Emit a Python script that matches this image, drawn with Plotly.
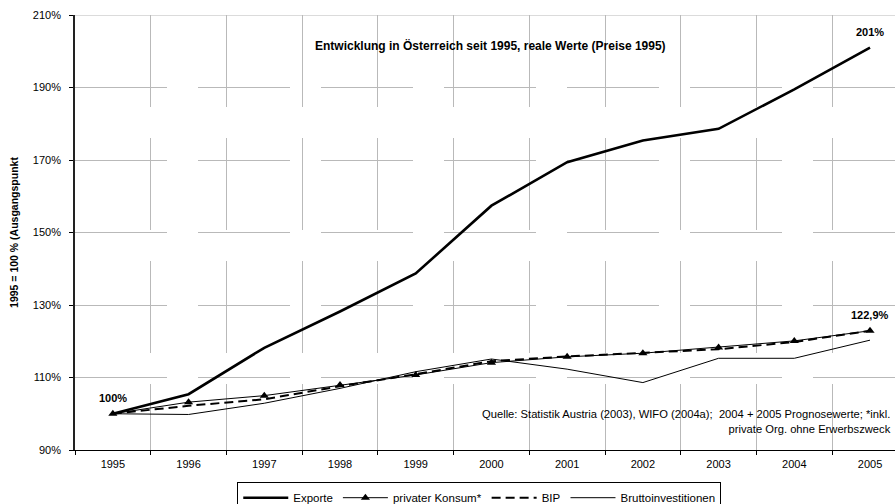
import plotly.graph_objects as go

# Jahre (Kategorien der x-Achse)
jahre = ["1995", "1996", "1997", "1998", "1999", "2000",
         "2001", "2002", "2003", "2004", "2005"]

# Indexwerte, 1995 = 100 %
exporte = [100.0, 105.4, 118.2, 128.2, 138.7, 157.4, 169.4, 175.4, 178.6, 189.5, 201.0]
privater_konsum = [100.0, 103.2, 105.0, 107.9, 110.7, 114.1, 115.7, 116.7, 118.3, 120.1, 122.9]
bip = [100.0, 102.2, 104.0, 107.6, 110.9, 114.5, 115.8, 116.8, 117.8, 119.8, 122.9]
bruttoinvestitionen = [100.0, 99.8, 102.9, 107.0, 111.6, 115.1, 112.3, 108.6, 115.3, 115.3, 120.3]

y_ticks = [90, 110, 130, 150, 170, 190, 210]
y_ticktext = [f"{v}%" for v in y_ticks]

FONT = "Liberation Sans, Arial, sans-serif"


def pct(v):
    return f"{v:g}%".replace(".", ",")


fig = go.Figure()

fig.add_trace(go.Scatter(
    x=jahre, y=exporte, name="Exporte", mode="lines",
    line=dict(color="black", width=2.6),
))
fig.add_trace(go.Scatter(
    x=jahre, y=privater_konsum, name="privater Konsum*", mode="lines+markers",
    line=dict(color="black", width=1),
    marker=dict(symbol="triangle-up", size=8, color="black"),
))
fig.add_trace(go.Scatter(
    x=jahre, y=bip, name="BIP", mode="lines",
    line=dict(color="black", width=2, dash="9px,5px"),
))
fig.add_trace(go.Scatter(
    x=jahre, y=bruttoinvestitionen, name="Bruttoinvestitionen", mode="lines",
    line=dict(color="black", width=1),
))

# Wertbeschriftungen an Start- und Endpunkten (Kategorie-Index als x)
last = len(jahre) - 1
labels = [
    (0, exporte[0]),
    (last, exporte[last]),
    (last, privater_konsum[last]),
]
for xi, yv in labels:
    fig.add_annotation(
        x=xi, xref="x", y=yv, yref="y", text=f"<b>{pct(yv)}</b>", showarrow=False,
        yshift=16, font=dict(family=FONT, size=11, color="black"),
    )

# Titel im Diagramm
fig.add_annotation(
    x=0.507, xref="paper", y=0.931, yref="paper", yanchor="middle",
    text="<b>Entwicklung in Österreich seit 1995, reale Werte (Preise 1995)</b>",
    showarrow=False, font=dict(family=FONT, size=12, color="black"),
)

# Quellenangabe
fig.add_annotation(
    x=1, xref="paper", xanchor="right", y=97.8, yref="y", yanchor="middle",
    text="Quelle: Statistik Austria (2003), WIFO (2004a);  2004 + 2005 Prognosewerte; *inkl.<br>"
         "private Org. ohne Erwerbszweck",
    align="right", showarrow=False,
    font=dict(family=FONT, size=11.2, color="black"),
    xshift=-2,
)

# obere Begrenzung des Plotbereichs
fig.add_shape(
    type="line", xref="paper", x0=0, x1=1, yref="y", y0=210, y1=210,
    line=dict(color="#cfcfcf", width=1.5), layer="below",
)

fig.update_layout(
    width=895, height=504,
    margin=dict(l=75, r=0, t=15, b=54, autoexpand=False),
    paper_bgcolor="white", plot_bgcolor="white",
    font=dict(family=FONT, size=10, color="black"),
    showlegend=True,
    legend=dict(
        orientation="h", x=0.493, xanchor="center", y=-0.074, yanchor="top",
        bgcolor="white", bordercolor="black", borderwidth=1,
        font=dict(family=FONT, size=11.5, color="black"),
        itemwidth=45, tracegroupgap=0,
    ),
    xaxis=dict(
        type="category", range=[-0.5, 10.33],
        tickson="boundaries", ticks="outside", ticklen=4, tickcolor="black",
        showline=True, linecolor="black", linewidth=1.3,
        showgrid=True, gridcolor="#b9b9b9", gridwidth=1, griddash="92px,31px",
        tickfont=dict(family=FONT, size=11, color="black"),
        ticklabelstandoff=4,
        fixedrange=True,
    ),
    yaxis=dict(
        range=[90, 210], tickmode="array", tickvals=y_ticks, ticktext=y_ticktext,
        ticks="outside", ticklen=4, tickcolor="black",
        showline=True, linecolor="#222222", linewidth=1.6,
        showgrid=True, gridcolor="#b9b9b9", gridwidth=1, griddash="92px,31px",
        zeroline=False,
        tickfont=dict(family=FONT, size=11, color="black"),
        ticklabelstandoff=6,
        title=dict(text="<b>1995 = 100 % (Ausgangspunkt</b>",
                   font=dict(family=FONT, size=10.5, color="black"), standoff=12),
        fixedrange=True,
    ),
)

fig.write_html("out.html")
